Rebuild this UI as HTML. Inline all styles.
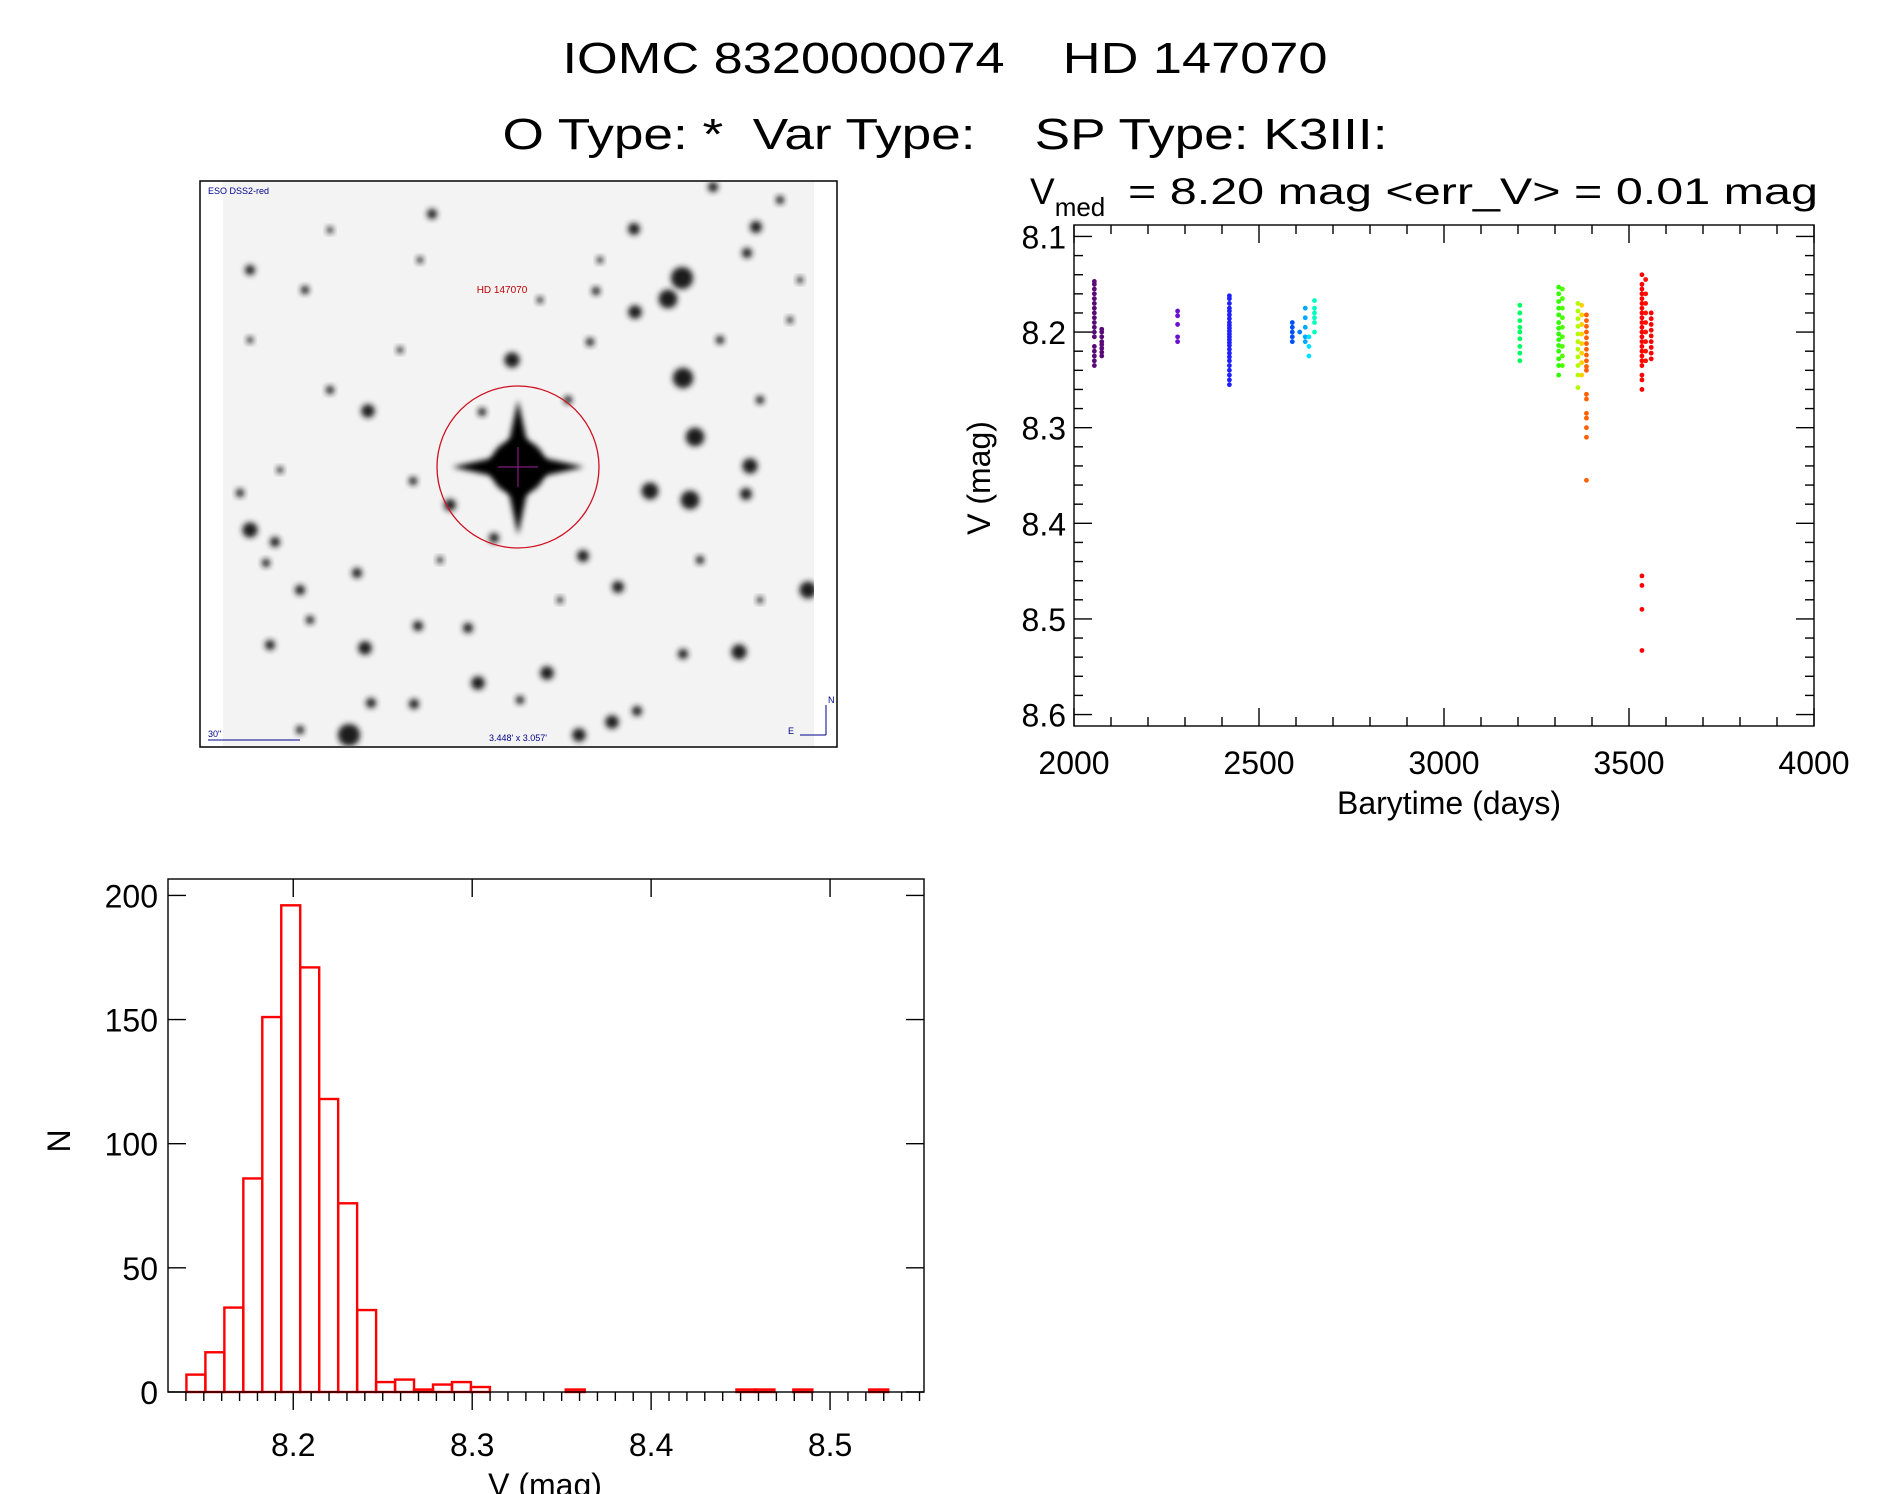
<!DOCTYPE html>
<html><head><meta charset="utf-8"><style>
html,body{margin:0;padding:0;background:#fff;}
svg{display:block;font-family:"Liberation Sans",sans-serif;}
</style></head><body>
<svg id="root" width="1889" height="1494" viewBox="0 0 1889 1494" xmlns="http://www.w3.org/2000/svg">
<defs>
<filter id="blur2" x="-50%" y="-50%" width="200%" height="200%"><feGaussianBlur stdDeviation="3"/></filter>
<filter id="blur1" x="-50%" y="-50%" width="200%" height="200%"><feGaussianBlur stdDeviation="1.5"/></filter>
<clipPath id="skyclip"><rect x="223" y="182" width="591" height="564"/></clipPath>
</defs>
<text x="945" y="73" font-size="44" text-anchor="middle" textLength="765" lengthAdjust="spacingAndGlyphs" xml:space="preserve">IOMC 8320000074    HD 147070</text>
<text x="945" y="149" font-size="44" text-anchor="middle" textLength="885" lengthAdjust="spacingAndGlyphs" xml:space="preserve">O Type: *  Var Type:    SP Type: K3III:</text>

<g id="sky"></g>
<g id="lc"></g>
<g id="hist"></g>
</svg>
<script>
// ---------- Light curve data ----------
const lcTimes = [2055, 2075, 2280, 2420, 2590, 2610, 2625, 2635, 2650, 3205, 3310, 3320, 3362, 3372, 3385, 3535, 3545, 3560];
const lcColors = ["#5a0a78","#5a0a78","#6a10d0","#2020ff","#0050ff","#0080ff","#00a8ff","#00e0ff","#00ffc0","#00ff60","#30ff00","#50ff00","#b0ff00","#ffd000","#ff6000","#ff0000","#ff1000","#ff0000"];
const lcMags = [
 [8.147,8.150,8.155,8.160,8.165,8.170,8.175,8.180,8.185,8.190,8.195,8.200,8.205,8.215,8.220,8.225,8.230,8.235],
 [8.197,8.200,8.205,8.210,8.213,8.217,8.221,8.225],
 [8.178,8.183,8.192,8.205,8.210],
 [8.162,8.165,8.170,8.175,8.178,8.182,8.186,8.190,8.193,8.196,8.199,8.202,8.205,8.208,8.211,8.214,8.218,8.222,8.226,8.230,8.235,8.240,8.245,8.250,8.255],
 [8.190,8.195,8.200,8.205,8.210],
 [8.200],
 [8.175,8.185,8.195,8.205,8.210],
 [8.205,8.215,8.225],
 [8.167,8.175,8.180,8.185,8.190,8.200],
 [8.172,8.180,8.188,8.195,8.200,8.207,8.215,8.222,8.230],
 [8.153,8.160,8.168,8.175,8.182,8.190,8.196,8.202,8.208,8.214,8.220,8.228,8.235,8.245],
 [8.155,8.165,8.175,8.185,8.195,8.205,8.215,8.225,8.235],
 [8.170,8.178,8.186,8.194,8.202,8.210,8.218,8.226,8.235,8.245,8.258],
 [8.172,8.182,8.192,8.202,8.212,8.222,8.232,8.245],
 [8.182,8.188,8.194,8.200,8.206,8.212,8.218,8.224,8.230,8.236,8.240,8.265,8.270,8.285,8.290,8.300,8.310,8.355],
 [8.140,8.150,8.155,8.160,8.165,8.170,8.175,8.180,8.185,8.190,8.195,8.200,8.205,8.210,8.215,8.220,8.225,8.230,8.235,8.245,8.250,8.260,8.455,8.465,8.490,8.533],
 [8.145,8.160,8.170,8.180,8.190,8.200,8.210,8.220,8.230],
 [8.180,8.186,8.192,8.198,8.204,8.210,8.216,8.222,8.228]
];
const lcXTicks = [2000, 2500, 3000, 3500, 4000];
const lcYTicks = [8.1, 8.2, 8.3, 8.4, 8.5, 8.6];

// ---------- Histogram data ----------
const histStart = 8.1403;
const histBinWidth = 0.0106;
const histCounts = [7,16,34,86,151,196,171,118,76,33,4,5,1,3,4,2,0,0,0,0,1,0,0,0,0,0,0,0,0,1,1,0,1,0,0,0,1];
const histXTicks = [8.2, 8.3, 8.4, 8.5];
const histYTicks = [0, 50, 100, 150, 200];

const NS = "http://www.w3.org/2000/svg";
function mk(tag, attrs, parent){const e=document.createElementNS(NS,tag);for(const k in attrs)e.setAttribute(k,attrs[k]);parent.appendChild(e);return e;}

// ---------- Sky image (decorative) ----------
(function(){
 const g=document.getElementById('sky');
 const r=mk('rect',{x:200,y:181,width:637,height:566,fill:'#fff',stroke:'#000','stroke-width':1.5},g);
 
 
 const cg=mk('g',{'clip-path':'url(#skyclip)'},g);
 mk('rect',{x:223,y:182,width:591,height:564,fill:'#f3f3f3'},cg);
 const stars=[[713,187,6],[432,214,6],[512,360,9],[634,229,7],[668,299,11],[596,291,5],[590,342,5],[756,227,7],[682,278,13],[635,312,8],[683,378,12],[747,253,6],[568,400,5],[482,412,5],[695,437,11],[650,491,10],[690,500,11],[746,494,7],[750,466,9],[583,556,7],[494,538,6],[413,481,5],[368,411,8],[450,505,7],[250,530,9],[275,542,6],[240,493,5],[365,648,8],[300,590,6],[357,573,6],[418,626,6],[468,628,6],[478,683,8],[547,673,8],[618,587,7],[739,652,9],[808,590,10],[683,654,6],[637,711,6],[612,722,8],[579,735,8],[349,735,13],[371,703,6],[414,704,6],[300,730,5],[266,563,5],[310,620,5],[270,645,6],[250,270,6],[305,290,5],[250,340,4],[280,470,4],[330,390,5],[400,350,4],[540,300,4],[600,260,4],[720,340,5],[760,400,5],[790,320,4],[700,560,5],[760,600,4],[440,560,4],[560,600,4],[520,700,5],[420,260,4],[330,230,4],[780,200,5],[800,280,4]];
 stars.forEach(s=>{mk('circle',{cx:s[0],cy:s[1],r:s[2]*0.85,fill:'#1a1a1a',filter:'url(#blur2)'},cg);});
 mk('line',{x1:223,y1:466,x2:814,y2:466,stroke:'#777','stroke-width':2,filter:'url(#blur1)'},cg);
 mk('line',{x1:518,y1:182,x2:518,y2:746,stroke:'#777','stroke-width':2,filter:'url(#blur1)'},cg);
 mk('path',{d:'M518 400 L530 455 L584 467 L530 479 L518 535 L506 479 L452 467 L506 455 Z',fill:'#050505',filter:'url(#blur2)'},cg);
 mk('circle',{cx:518,cy:467,r:28,fill:'#000',filter:'url(#blur2)'},cg);
 const c=mk('circle',{cx:518,cy:467,r:81,fill:'none',stroke:'#d01020','stroke-width':1.3},g);
 
 
 mk('line',{x1:498,y1:467,x2:538,y2:467,stroke:'#a020a0','stroke-width':1},g);
 mk('line',{x1:518,y1:447,x2:518,y2:487,stroke:'#a020a0','stroke-width':1},g);
 const t1=mk('text',{x:502,y:293,'font-size':10,fill:'#c00000','text-anchor':'middle'},g);t1.textContent='HD 147070';
 
 
 const t2=mk('text',{x:208,y:194,'font-size':9,fill:'#00008b'},g);t2.textContent='ESO DSS2-red';
 
 
 const t3=mk('text',{x:208,y:737,'font-size':9,fill:'#00008b'},g);t3.textContent='30"';
 
 
 mk('line',{x1:208,y1:740,x2:300,y2:740,stroke:'#00008b','stroke-width':1},g);
 const t4=mk('text',{x:518,y:741,'font-size':9,fill:'#00008b','text-anchor':'middle'},g);t4.textContent="3.448' x 3.057'";
 
 
 mk('line',{x1:826,y1:735,x2:826,y2:705,stroke:'#00008b','stroke-width':1},g);
 mk('line',{x1:826,y1:735,x2:800,y2:735,stroke:'#00008b','stroke-width':1},g);
 const t5=mk('text',{x:828,y:703,'font-size':9,fill:'#00008b'},g);t5.textContent='N';
 
 
 const t6=mk('text',{x:788,y:734,'font-size':9,fill:'#00008b'},g);t6.textContent='E';
 
 
})();

// ---------- Light curve ----------
(function(){
 const g=document.getElementById('lc');
 const L=1074,R=1814,T=225,B=726;
 const x0=2000,x1=4000,yTop=8.088,yBot=8.612;
 const sx=v=>L+(v-x0)/(x1-x0)*(R-L);
 const sy=v=>T+(v-yTop)/(yBot-yTop)*(B-T);
 const st={stroke:'#000','stroke-width':1.4};
 const f=mk('rect',{x:L,y:T,width:R-L,height:B-T,fill:'none',stroke:'#000','stroke-width':1.4},g);
 
 
 for(let v=x0;v<=x1;v+=100){const major=(v%500===0);const len=major?18:9;
  mk('line',Object.assign({x1:sx(v),x2:sx(v),y1:B,y2:B-len},st),g);
  mk('line',Object.assign({x1:sx(v),x2:sx(v),y1:T,y2:T+len},st),g);}
 for(let i=0;i<=30;i++){const v=8.0+i*0.02; if(v<yTop-1e-6||v>yBot+1e-6)continue; const major=(Math.abs(v*10-Math.round(v*10))<1e-6);const len=major?18:9;
  mk('line',Object.assign({x1:L,x2:L+len,y1:sy(v),y2:sy(v)},st),g);
  mk('line',Object.assign({x1:R,x2:R-len,y1:sy(v),y2:sy(v)},st),g);}
 lcXTicks.forEach(v=>{const t=mk('text',{x:sx(v),y:774,'font-size':32,'text-anchor':'middle'},g);t.textContent=String(v);
  
  });
 lcYTicks.forEach(v=>{const t=mk('text',{x:1066,y:sy(v)+12,'font-size':32,'text-anchor':'end'},g);t.textContent=v.toFixed(1);
  
  });
 const xt=mk('text',{x:1449,y:814,'font-size':32,'text-anchor':'middle'},g);xt.textContent='Barytime (days)';
 
 
 const yt=mk('text',{x:0,y:0,'font-size':32,'text-anchor':'middle',transform:'translate(990,478) rotate(-90)'},g);yt.textContent='V (mag)';
 
 
 const tt=mk('text',{x:1030,y:204,'font-size':37},g);
 
 
 tt.innerHTML='V<tspan font-size="26" dy="12">med</tspan>';
 const tt2=mk('text',{x:1128,y:204,'font-size':37,textLength:690,lengthAdjust:'spacingAndGlyphs','xml:space':'preserve'},g);
 
 
 tt2.textContent='=  8.20  mag  <err_V>  =  0.01  mag';
 lcTimes.forEach((t,i)=>{lcMags[i].forEach(m=>{const c=mk('circle',{cx:sx(t),cy:sy(m),r:2.4,fill:lcColors[i]},g);
  
  });});
})();

// ---------- Histogram ----------
(function(){
 const g=document.getElementById('hist');
 const L=168,R=924,T=879,B=1392;
 const x0=8.130,x1=8.5525,y0=0,y1=206.6;
 const sx=v=>L+(v-x0)/(x1-x0)*(R-L);
 const sy=v=>B-(v-y0)/(y1-y0)*(B-T);
 const st={stroke:'#000','stroke-width':1.4};
 histCounts.forEach((c,i)=>{const a=sx(histStart+i*histBinWidth),b=sx(histStart+(i+1)*histBinWidth);
  const r=mk('rect',{x:a,y:sy(c),width:b-a,height:sy(0)-sy(c),fill:'none',stroke:'#ff0000','stroke-width':2.4},g);
  
  });
 const f=mk('rect',{x:L,y:T,width:R-L,height:B-T,fill:'none',stroke:'#000','stroke-width':1.4},g);
 
 
 for(let i=14;i<=55;i++){const v=i/100; const vv=8+v; if(vv<x0||vv>x1)continue; const major=(i%10===0);const len=major?18:9;
  mk('line',Object.assign({x1:sx(vv),x2:sx(vv),y1:B,y2:B+len},st),g);
  if(major) mk('line',Object.assign({x1:sx(vv),x2:sx(vv),y1:T,y2:T+18},st),g);}
 histYTicks.forEach(v=>{mk('line',Object.assign({x1:L,x2:L+18,y1:sy(v),y2:sy(v)},st),g);
  mk('line',Object.assign({x1:R,x2:R-18,y1:sy(v),y2:sy(v)},st),g);
  const t=mk('text',{x:158,y:sy(v)+12,'font-size':32,'text-anchor':'end'},g);t.textContent=String(v);
  
  });
 histXTicks.forEach(v=>{const t=mk('text',{x:sx(v),y:1456,'font-size':32,'text-anchor':'middle'},g);t.textContent=v.toFixed(1);
  
  });
 const xt=mk('text',{x:545,y:1496,'font-size':32,'text-anchor':'middle'},g);xt.textContent='V (mag)';
 
 
 const yt=mk('text',{x:0,y:0,'font-size':32,'text-anchor':'middle',transform:'translate(70,1141) rotate(-90)'},g);yt.textContent='N';
 
 
})();
</script>
</body></html>
